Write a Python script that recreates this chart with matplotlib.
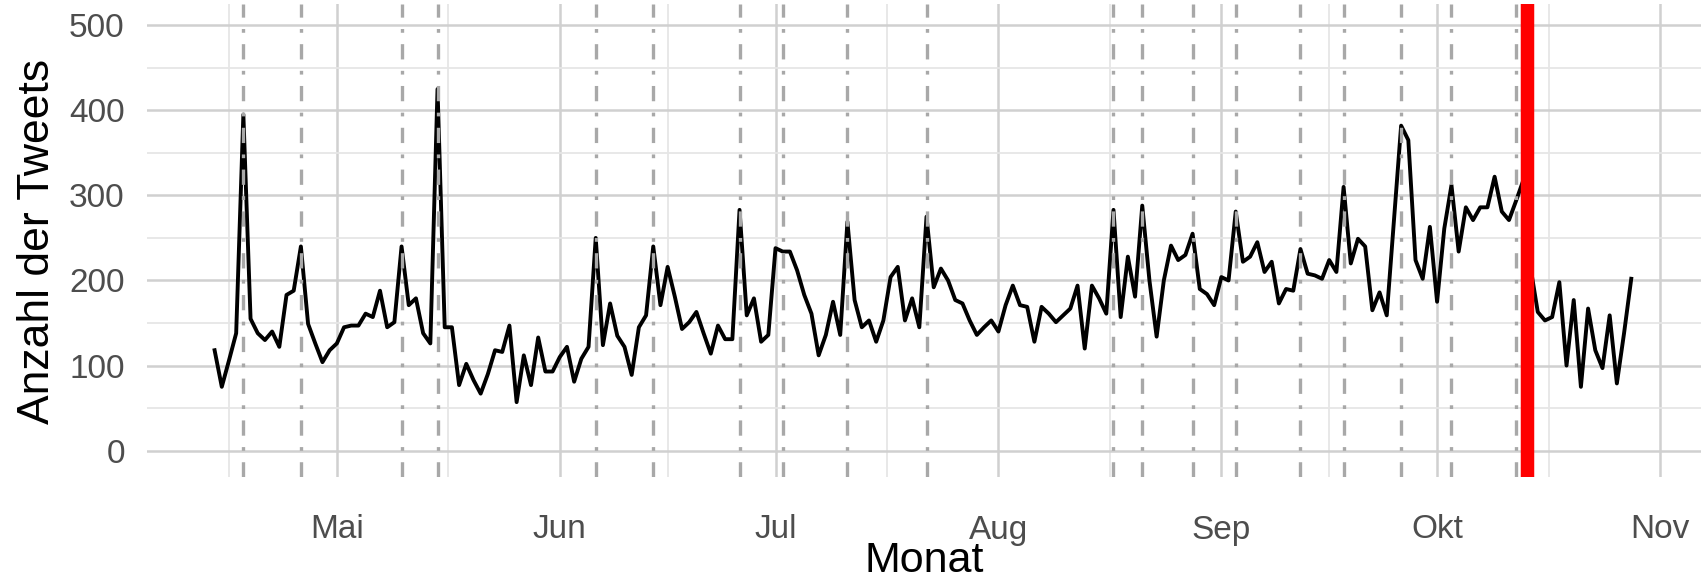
import numpy as np
import pandas as pd
import matplotlib
matplotlib.use("Agg")
import matplotlib.pyplot as plt
import matplotlib.dates as mdates

plt.rcParams["font.family"] = ["Liberation Sans", "DejaVu Sans"]
plt.rcParams["lines.scale_dashes"] = False

# daily tweet counts, 14 Apr 2017 .. 28 Oct 2017
start = "2017-04-14"
tweets = [
    118, 75, 106, 138, 395, 155, 138, 130, 140, 122, 183, 188, 240, 149, 126, 104, 118,
    126, 145, 147, 147, 161, 157, 188, 145, 151, 240, 171, 179, 138, 126, 425, 145, 145,
    77, 102, 83, 67, 90, 118, 116, 147, 57, 112, 77, 133, 93, 93,
    110, 122, 81, 108, 122, 250, 124, 173, 135, 122, 89, 145, 159, 240, 171, 216, 181,
    143, 151, 163, 138, 114, 147, 131, 131, 283, 159, 179, 128, 136,
    238, 234, 234, 212, 183, 161, 112, 136, 175, 136, 269, 177, 145, 153, 128, 153, 204,
    216, 153, 179, 145, 275, 192, 214, 200, 177, 173, 153, 136, 145, 153,
    140, 171, 194, 171, 169, 128, 169, 161, 151, 159, 167, 194, 120, 194, 179, 161, 283,
    157, 228, 181, 288, 200, 134, 200, 241, 224, 230, 255, 190, 184, 171,
    204, 200, 281, 222, 228, 245, 210, 222, 173, 190, 188, 237, 208, 206, 202, 224, 210,
    310, 220, 249, 240, 165, 186, 159, 270, 382, 365, 224, 202, 263,
    175, 261, 312, 234, 286, 271, 286, 286, 322, 281, 271, 294, 318, 215, 163, 153, 157,
    198, 100, 177, 75, 167, 118, 97, 159, 79, 138, 202,
]
events = ["2017-04-18", "2017-04-26", "2017-05-10", "2017-05-15", "2017-06-06",
          "2017-06-14", "2017-06-26", "2017-07-02", "2017-07-11", "2017-07-22",
          "2017-08-17", "2017-08-21", "2017-08-28", "2017-09-03", "2017-09-12",
          "2017-09-18", "2017-09-26", "2017-10-03", "2017-10-12"]
election = "2017-10-13 12:00"
month_ticks = ["2017-05-01", "2017-06-01", "2017-07-01", "2017-08-01",
               "2017-09-01", "2017-10-01", "2017-11-01"]
month_labels = ["Mai", "Jun", "Jul", "Aug", "Sep", "Okt", "Nov"]

dates = pd.date_range(start, periods=len(tweets), freq="D")

W, H = 1706, 574
fig = plt.figure(figsize=(W / 100, H / 100), dpi=100)
ax = fig.add_axes([147 / W, 1 - 477 / H, (1701 - 147) / W, (477 - 4) / H])

ax.plot(dates, tweets, color="black", lw=2.8, zorder=2)
for e in events:
    ax.axvline(pd.Timestamp(e), color="#a8a8a8", lw=2.4,
               linestyle=(0, (11, 8.2, 2.7, 8.2)), zorder=3)
ax.axvline(pd.Timestamp(election), color="red", lw=9.7, zorder=4)

# axes ranges
may1 = mdates.date2num(pd.Timestamp("2017-05-01"))
ax.set_xlim(may1 - 26.4, may1 + 189.7)
ax.set_ylim(-31, 525)

# ticks and grid (theme_minimal look)
major = [mdates.date2num(pd.Timestamp(m)) for m in ["2017-04-01"] + month_ticks]
ax.set_xticks(major[1:])
ax.set_xticklabels(month_labels)
ax.set_xticks([(a + b) / 2 for a, b in zip(major[:-1], major[1:])], minor=True)
ax.set_yticks(np.arange(0, 501, 100))
ax.set_yticks(np.arange(50, 451, 100), minor=True)

ax.grid(which="major", color="#d0d0d0", lw=1.8)
ax.grid(which="minor", color="#e6e6e6", lw=1.3)
ax.set_axisbelow(True)
for s in ax.spines.values():
    s.set_visible(False)
ax.tick_params(which="both", length=0)
ax.tick_params(axis="x", pad=27, labelsize=24, labelcolor="#4d4d4d")
ax.tick_params(axis="y", pad=16, labelsize=24, labelcolor="#4d4d4d")

fig.text(924 / W, 1 - 572 / H, "Monat", ha="center", va="baseline", fontsize=31)
fig.text(38 / W, 1 - 241 / H, "Anzahl der Tweets", rotation=90,
         ha="center", va="center", fontsize=32)

fig.savefig("out.png", dpi=100)
